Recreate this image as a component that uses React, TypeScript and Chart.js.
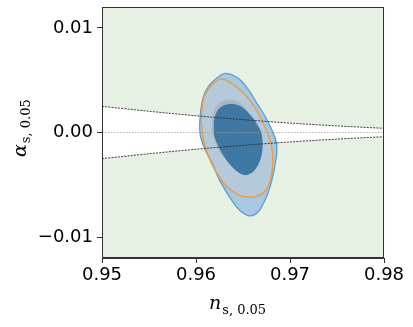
import React, { useEffect, useRef } from "react";
import { Chart, registerables } from "chart.js";
Chart.register(...registerables);

// axis ticks
const xTicks = [0.95, 0.96, 0.97, 0.98];
const yTicks = [-0.01, 0.0, 0.01];
const xTitleMain = "n";
const yTitleMain = "α";
const titleSub = "s, 0.05";

// boundary curves of the allowed wedge
const nsLine = [0.95, 0.955, 0.96, 0.965, 0.97, 0.975, 0.98];
const alphaUpper = [0.0025, 0.00203, 0.0016, 0.00123, 0.0009, 0.00063, 0.0004];
const alphaLower = [-0.0025, -0.00203, -0.0016, -0.00123, -0.0009, -0.00063, -0.0004];
const zeroNs = [0.95, 0.98];
const zeroAlpha = [0, 0];

// blue 95% contour (upper / lower arcs)
const blue95UpNs = [0.96037, 0.96052, 0.9608, 0.96133, 0.96222, 0.9631, 0.96399, 0.9647, 0.96558, 0.96647, 0.96735, 0.96807, 0.96852, 0.9686];
const blue95UpAl = [0.00057, 0.00217, 0.00344, 0.0044, 0.00521, 0.00565, 0.00545, 0.00504, 0.00409, 0.00281, 0.00153, 0.00026, -0.00086, -0.00197];
const blue95LoNs = [0.96037, 0.96052, 0.96098, 0.96169, 0.96257, 0.96363, 0.9647, 0.96576, 0.96664, 0.96735, 0.96789, 0.96831, 0.9686];
const blue95LoAl = [0.00057, -0.00054, -0.00166, -0.00293, -0.00465, -0.00625, -0.00748, -0.00797, -0.00756, -0.00644, -0.00517, -0.00357, -0.00197];

// second chain 95% contour (orange outline)
const grey95UpNs = [0.96055, 0.96063, 0.96087, 0.96151, 0.9623, 0.963, 0.96382, 0.96488, 0.96594, 0.96682, 0.96746, 0.96796, 0.96817];
const grey95UpAl = [0.0009, 0.00217, 0.00344, 0.0044, 0.005, 0.00509, 0.00466, 0.00392, 0.00281, 0.00153, 0.00026, -0.00101, -0.0023];
const grey95LoNs = [0.96055, 0.9608, 0.96133, 0.96222, 0.96328, 0.96452, 0.96576, 0.96682, 0.9676, 0.96807, 0.96817];
const grey95LoAl = [0.0009, -0.0007, -0.0023, -0.00389, -0.00517, -0.00596, -0.00618, -0.00596, -0.00532, -0.00389, -0.0023];

// second chain 68% contour
const grey68UpNs = [0.9617, 0.96192, 0.96255, 0.9636, 0.9644, 0.9651, 0.9658, 0.9664, 0.9667, 0.9668];
const grey68UpAl = [0.00095, 0.00205, 0.00288, 0.00312, 0.00298, 0.0025, 0.0016, 0.0006, -0.0004, -0.0014];
const grey68LoNs = [0.9617, 0.96178, 0.96225, 0.963, 0.96395, 0.965, 0.9657, 0.9663, 0.9667, 0.9668];
const grey68LoAl = [0.00095, -0.0002, -0.00135, -0.00245, -0.00343, -0.00405, -0.00395, -0.0034, -0.00245, -0.0014];

// blue 68% contour
const blue68UpNs = [0.96186, 0.96215, 0.96275, 0.96363, 0.96435, 0.96505, 0.96594, 0.96664, 0.967, 0.96711];
const blue68UpAl = [0.0009, 0.00186, 0.00249, 0.00272, 0.00265, 0.00233, 0.00153, 0.00057, -0.00022, -0.00134];
const blue68LoNs = [0.96186, 0.96193, 0.96239, 0.9631, 0.96399, 0.96505, 0.96576, 0.9664, 0.9669, 0.96711];
const blue68LoAl = [0.0009, -0.00022, -0.00134, -0.00245, -0.00341, -0.00405, -0.00395, -0.00341, -0.00245, -0.00134];

const pts = (xs: number[], ys: number[]) => xs.map((x, i) => ({ x, y: ys[i] }));
const fmt = (v: number) => (Math.abs(v) < 1e-12 ? "0.00" : v.toFixed(2).replace("-", "\u2212"));

export default function App() {
  const ref = useRef<HTMLCanvasElement | null>(null);
  useEffect(() => {
    if (!ref.current) return;
    const base = { showLine: true, pointRadius: 0, pointHoverRadius: 0 };
    const contour = (xs: number[], ys: number[], fill: any, bg: string, border: string, bw: number) => ({
      ...base,
      data: pts(xs, ys),
      fill,
      backgroundColor: bg,
      borderColor: border,
      borderWidth: bw,
      tension: 0.4,
    });
    const noPad = (s: any) => {
      s.paddingTop = 0;
      s.paddingBottom = 0;
      s.paddingLeft = 0;
      s.paddingRight = 0;
    };
    const chart = new Chart(ref.current, {
      type: "scatter",
      data: {
        datasets: [
          { ...base, data: pts(zeroNs, zeroAlpha), borderColor: "#a0a0a0", borderWidth: 0.8, borderDash: [1.5, 1.5], fill: false },
          { ...base, data: pts(nsLine, alphaUpper), borderColor: "#2a2a2a", borderWidth: 0.9, borderDash: [2, 1.2], fill: false, tension: 0.3 },
          { ...base, data: pts(nsLine, alphaLower), borderColor: "#2a2a2a", borderWidth: 0.9, borderDash: [2, 1.2], fill: false, tension: 0.3 },
          contour(blue68UpNs, blue68UpAl, "+1", "#3f78a3", "rgba(0,0,0,0)", 0),
          contour(blue68LoNs, blue68LoAl, false, "#3f78a3", "rgba(0,0,0,0)", 0),
          contour(grey68UpNs, grey68UpAl, "+1", "#aab6c1", "rgba(0,0,0,0)", 0),
          contour(grey68LoNs, grey68LoAl, false, "#aab6c1", "rgba(0,0,0,0)", 0),
          contour(grey95UpNs, grey95UpAl, "+1", "#b4c9da", "#f0973f", 1.3),
          contour(grey95LoNs, grey95LoAl, false, "#b4c9da", "#f0973f", 1.3),
          contour(blue95UpNs, blue95UpAl, "+1", "#a6c8e1", "#5d9dcf", 1.3),
          contour(blue95LoNs, blue95LoAl, false, "#a6c8e1", "#5d9dcf", 1.3),
          { ...base, data: pts(nsLine, alphaUpper), fill: "+1", backgroundColor: "#ffffff", borderColor: "rgba(0,0,0,0)", borderWidth: 0, tension: 0.3 },
          { ...base, data: pts(nsLine, alphaLower), fill: false, borderColor: "rgba(0,0,0,0)", borderWidth: 0, tension: 0.3 },
        ],
      },
      options: {
        responsive: false,
        animation: false,
        layout: { padding: { left: 0, top: 7, right: 29, bottom: 0 } },
        plugins: {
          legend: { display: false },
          tooltip: { enabled: false },
          filler: { drawTime: "beforeDatasetsDraw", propagate: false },
        },
        scales: {
          x: {
            type: "linear",
            min: 0.95,
            max: 0.98,
            afterFit: (s: any) => { s.height = 69; noPad(s); },
            afterBuildTicks: (s: any) => { s.ticks = xTicks.map((v) => ({ value: v })); },
            grid: { drawOnChartArea: false, drawTicks: true, tickLength: 5, color: "#333", lineWidth: 1 },
            border: { display: true, color: "#333", width: 1 },
            ticks: { font: { family: "DejaVu Sans", size: 18 }, color: "#000", padding: 2, maxRotation: 0, autoSkip: false, callback: (v: any) => fmt(Number(v)) },
          },
          y: {
            type: "linear",
            min: -0.012,
            max: 0.012,
            afterFit: (s: any) => { s.width = 102; noPad(s); },
            afterBuildTicks: (s: any) => { s.ticks = yTicks.map((v) => ({ value: v })); },
            grid: { drawOnChartArea: false, drawTicks: true, tickLength: 5, color: "#333", lineWidth: 1 },
            border: { display: true, color: "#333", width: 1 },
            ticks: { font: { family: "DejaVu Sans", size: 18 }, color: "#000", padding: 4, autoSkip: false, callback: (v: any) => fmt(Number(v)) },
          },
        },
      },
      plugins: [
        {
          id: "bgAndTitles",
          beforeDraw(c: any) {
            const { ctx, chartArea: a } = c;
            ctx.save();
            ctx.fillStyle = "#e6f1e4";
            ctx.fillRect(a.left, a.top, a.right - a.left, a.bottom - a.top);
            ctx.restore();
          },
          afterDraw(c: any) {
            const { ctx, chartArea: a } = c;
            ctx.save();
            ctx.strokeStyle = "#333";
            ctx.lineWidth = 1;
            ctx.strokeRect(Math.round(a.left) + 0.5, Math.round(a.top) + 0.5, Math.round(a.right - a.left) - 1, Math.round(a.bottom - a.top) - 1);
            ctx.fillStyle = "#000";
            ctx.textBaseline = "alphabetic";
            const main = 'italic 19px "DejaVu Serif"';
            const sub = '13px "DejaVu Serif"';
            ctx.font = main;
            const nw = ctx.measureText(xTitleMain).width;
            ctx.font = main;
            ctx.fillText(xTitleMain, 209, 309);
            ctx.font = sub;
            ctx.fillText(titleSub, 209 + nw + 1, 314);
            // y title
            ctx.font = main;
            const aw = ctx.measureText(yTitleMain).width;
            ctx.translate(26, 157);
            ctx.rotate(-Math.PI / 2);
            ctx.font = main;
            ctx.fillText(yTitleMain, 0, 0);
            ctx.font = sub;
            ctx.fillText(titleSub, aw + 1, 4);
            ctx.restore();
          },
        },
      ],
    } as any);
    return () => chart.destroy();
  }, []);
  return (
    <div style={{ position: "absolute", left: 0, top: 0, width: 413, height: 327, background: "#fff" }}>
      <canvas ref={ref} width={413} height={327} style={{ display: "block", width: 413, height: 327 }} />
    </div>
  );
}
